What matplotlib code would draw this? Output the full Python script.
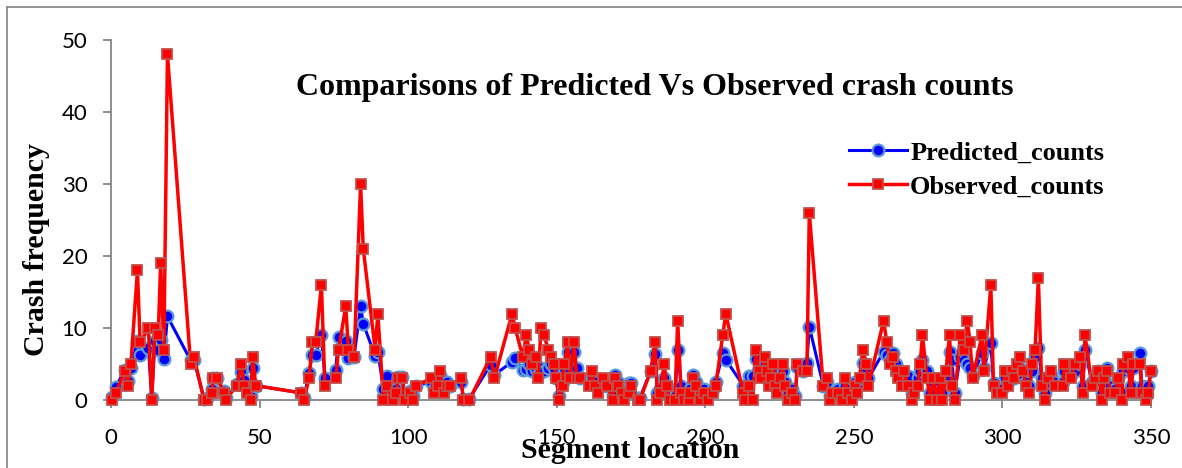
import matplotlib
matplotlib.use("Agg")
import matplotlib.pyplot as plt
from matplotlib.lines import Line2D

# Segment locations and crash counts per segment
segment_location = [
    0.5, 1.6, 4.7, 5.8, 6.7, 8.9, 9.8, 12.6, 13.7, 14.8, 15.9, 16.7, 17.8, 19.0,
    26.8, 27.9, 31.3, 32.4, 33.9, 34.4, 35.8, 38.0, 38.6, 42.3, 43.9, 44.8, 45.7,
    47.0, 47.7, 48.7, 63.8, 65.0, 66.6, 67.8, 68.9, 70.8, 72.0, 75.6, 76.6, 79.0,
    79.9, 81.8, 84.0, 84.9, 88.9, 89.8, 91.7, 92.8, 94.8, 95.9, 96.7, 98.0, 99.0,
    100.6, 101.8, 102.7, 107.7, 108.8, 110.0, 110.7, 111.9, 113.0, 114.1, 117.8,
    118.6, 120.6, 127.8, 129.0, 135.0, 136.0, 138.6, 139.7, 140.8, 141.8, 142.9,
    143.8, 144.7, 145.7, 147.2, 148.1, 149.1, 149.8, 150.9, 152.0, 152.6, 153.7,
    154.5, 155.9, 156.7, 158.0, 160.7, 161.8, 162.9, 164.0, 165.7, 167.0, 168.9,
    169.6, 170.5, 171.9, 172.8, 174.2, 174.9, 177.5, 178.0, 181.6, 183.1, 183.9,
    184.7, 186.2, 187.0, 188.0, 189.8, 190.7, 191.9, 192.8, 194.5, 194.9, 196.0,
    196.8, 198.3, 199.6, 200.9, 202.5, 203.5, 205.9, 206.9, 212.8, 213.3, 214.8,
    216.0, 217.0, 218.0, 218.8, 220.0, 220.7, 221.5, 222.2, 222.9, 223.5, 224.1,
    225.0, 226.1, 226.8, 228.0, 229.1, 230.2, 231.0, 233.0, 234.2, 235.0, 239.7,
    240.9, 242.0, 242.6, 244.8, 245.9, 247.1, 247.9, 249.3, 250.4, 251.2, 251.9,
    253.0, 254.2, 254.9, 260.0, 261.1, 262.2, 263.1, 264.2, 265.0, 266.1, 267.0,
    268.2, 269.5, 270.3, 271.5, 272.3, 273.1, 274.6, 275.7, 276.8, 277.9, 279.0,
    279.8, 281.0, 282.2, 283.0, 283.9, 285.8, 286.9, 288.2, 289.1, 290.0, 293.1,
    293.8, 296.1, 297.0, 298.1, 299.8, 300.9, 302.0, 303.2, 303.9, 305.0, 306.0,
    306.9, 308.0, 309.1, 309.9, 311.0, 312.1, 313.2, 314.4, 315.2, 316.3, 317.7,
    320.3, 320.8, 323.0, 324.5, 326.2, 327.0, 327.8, 330.1, 331.2, 332.3, 333.4,
    334.3, 335.1, 336.3, 337.9, 339.0, 340.2, 340.7, 342.1, 343.2, 344.1, 346.3,
    346.9, 348.4, 349.1, 349.9,
]

predicted_counts = [
    0.4, 1.8, 4.2, 2.6, 4.5, 8.2, 6.3, 7.2, 0.3, 8.2, 6.9, 8.3, 5.7, 11.6,
    5.5, 5.6, 0.2, 0.3, 1.5, 3.0, 3.0, 1.2, 0.3, 2.2, 3.9, 2.8, 1.5,
    0.5, 4.4, 2.0, 1.0, 0.3, 3.8, 6.3, 6.3, 9.0, 3.0, 4.2, 8.7, 8.2,
    5.8, 6.0, 13.0, 10.6, 6.1, 6.7, 1.5, 3.3, 0.5, 1.5, 3.2, 3.2, 0.5,
    1.2, 0.5, 2.0, 2.5, 1.5, 2.5, 3.5, 1.5, 2.5, 2.0, 2.5,
    0.2, 0.2, 4.9, 3.5, 5.3, 5.8, 4.2, 4.3, 5.0, 4.0, 4.3,
    3.5, 4.5, 4.0, 4.5, 5.0, 4.5, 3.0, 0.5, 2.5, 4.5, 6.7,
    4.0, 6.7, 4.4, 3.0, 2.5, 3.0, 2.5, 1.5, 2.5, 2.0, 0.5,
    3.5, 2.5, 1.5, 0.5, 2.3, 2.3, 0.3, 0.3, 4.0, 6.4, 1.0,
    1.5, 3.0, 2.0, 0.5, 0.5, 6.9, 2.0, 0.5, 0.5, 1.5, 3.5,
    2.5, 0.5, 1.5, 0.5, 1.5, 2.5, 6.5, 5.6, 2.0, 0.5, 3.4,
    3.3, 5.7, 4.5, 3.5, 5.0, 3.5, 2.5, 3.0, 4.0, 2.5, 1.5,
    3.0, 4.0, 2.5, 1.0, 1.5, 0.5, 4.6, 4.0, 5.2, 10.2, 2.0,
    2.5, 0.5, 1.0, 1.5, 0.5, 2.0, 1.5, 1.0, 2.5, 2.0, 3.0,
    5.2, 4.5, 3.0, 6.7, 6.2, 5.5, 6.5, 5.0, 4.0, 3.5, 3.5,
    3.3, 1.0, 2.0, 3.0, 4.0, 5.5, 4.0, 1.0, 2.5, 1.0, 2.5,
    1.0, 3.0, 6.7, 5.5, 1.0, 6.0, 5.5, 5.0, 4.5, 3.3, 6.5,
    4.5, 7.9, 2.3, 1.5, 1.5, 3.0, 2.5, 3.5, 3.0, 4.0, 4.5,
    3.5, 2.5, 2.0, 4.0, 6.0, 7.2, 3.0, 1.0, 2.5, 3.5, 2.5,
    2.5, 4.0, 3.5, 4.0, 5.0, 2.0, 6.9, 2.5, 3.0, 4.0, 1.0,
    3.0, 4.4, 2.0, 1.5, 3.0, 1.0, 4.0, 4.5, 2.0, 4.5, 6.5,
    2.0, 0.5, 1.9, 4.0,
]

observed_counts = [
    0, 1, 4, 2, 5, 18, 8, 10, 0, 10, 9, 19, 7, 48,
    5, 6, 0, 0, 1, 3, 3, 1, 0, 2, 5, 2, 1,
    0, 6, 2, 1, 0, 3, 8, 8, 16, 2, 3, 7, 13,
    7, 6, 30, 21, 7, 12, 0, 2, 0, 1, 3, 3, 0,
    1, 0, 2, 3, 1, 2, 4, 1, 2, 2, 3,
    0, 0, 6, 3, 12, 10, 6, 9, 7, 5, 6,
    3, 10, 9, 7, 6, 5, 3, 0, 2, 5, 8,
    3, 8, 3, 3, 2, 4, 2, 1, 3, 2, 0,
    3, 2, 1, 0, 1, 2, 0, 0, 4, 8, 0,
    1, 5, 2, 0, 0, 11, 1, 0, 0, 1, 3,
    2, 0, 1, 0, 1, 2, 9, 12, 1, 0, 2,
    0, 7, 4, 3, 6, 4, 2, 3, 5, 2, 1,
    3, 5, 2, 0, 1, 0, 5, 4, 4, 26, 2,
    3, 0, 1, 1, 0, 3, 1, 0, 2, 1, 3,
    7, 5, 2, 11, 8, 5, 6, 4, 3, 2, 4,
    2, 0, 1, 2, 5, 9, 3, 0, 3, 0, 3,
    0, 4, 9, 2, 0, 9, 7, 11, 8, 3, 9,
    4, 16, 2, 1, 1, 4, 2, 4, 3, 5, 6,
    4, 2, 1, 5, 7, 17, 2, 0, 3, 4, 2,
    2, 5, 3, 5, 6, 1, 9, 2, 3, 4, 0,
    3, 4, 1, 1, 3, 0, 5, 6, 1, 5, 5,
    1, 0, 1, 4,
]

x_ticks = [0, 50, 100, 150, 200, 250, 300, 350]
y_ticks = [0, 10, 20, 30, 40, 50]

W, H = 1182, 468
serif = "Liberation Serif"
axis_grey = "#868686"

fig = plt.figure(figsize=(W / 100, H / 100), dpi=100)
ax = fig.add_axes([111 / W, 1 - 400 / H, 1040 / W, 360 / H])

ax.plot(segment_location, predicted_counts, color="#0000FF", lw=2.2,
        marker="o", ms=8.5, mfc="#0000FF", mec="#5B9BD5", mew=1.6,
        label="Predicted_counts", zorder=3, clip_on=False)
ax.plot(segment_location, observed_counts, color="#FF0000", lw=2.5,
        marker="s", ms=7.0, mfc="#FF0000", mec="#C0504D", mew=1.3,
        label="Observed_counts", zorder=4, clip_on=False)

ax.set_xlim(0, 350)
ax.set_ylim(0, 50)
ax.set_xticks(x_ticks)
ax.set_yticks(y_ticks)

for side in ["top", "right"]:
    ax.spines[side].set_visible(False)
for side in ["left", "bottom"]:
    ax.spines[side].set_color(axis_grey)
    ax.spines[side].set_linewidth(1.3)

ax.tick_params(axis="both", direction="out", length=6, width=1.3,
               color=axis_grey, labelsize=16)
ax.tick_params(axis="x", pad=14)
ax.tick_params(axis="y", pad=11)
for lbl in ax.get_xticklabels() + ax.get_yticklabels():
    lbl.set_family("Lato")

fig.text(655 / W, 1 - 88 / H, "Comparisons of Predicted Vs Observed crash counts",
         ha="center", va="center", fontsize=23, fontweight="bold", family=serif)
fig.text(37 / W, 1 - 250 / H, "Crash frequency", rotation=90,
         ha="center", va="center", fontsize=21.5, fontweight="bold", family=serif)
fig.text(630 / W, 1 - 451 / H, "Segment location",
         ha="center", va="center", fontsize=21.5, fontweight="bold", family=serif)

ax.legend(loc="upper left", bbox_to_anchor=(849 / W, 1 - 141 / H),
          bbox_transform=fig.transFigure, frameon=False,
          prop=dict(family=serif, weight="bold", size=19),
          handlelength=2.2, handletextpad=0.12, labelspacing=0.4,
          borderpad=0, borderaxespad=0)

# cadre gris du graphique
fig.add_artist(Line2D([7 / W, 7 / W], [0, 1 - 7 / H], transform=fig.transFigure,
                      color="#8c8c8c", lw=1.3))
fig.add_artist(Line2D([7 / W, 1], [1 - 7 / H, 1 - 7 / H], transform=fig.transFigure,
                      color="#8c8c8c", lw=1.3))

fig.savefig("out.png", dpi=100)
